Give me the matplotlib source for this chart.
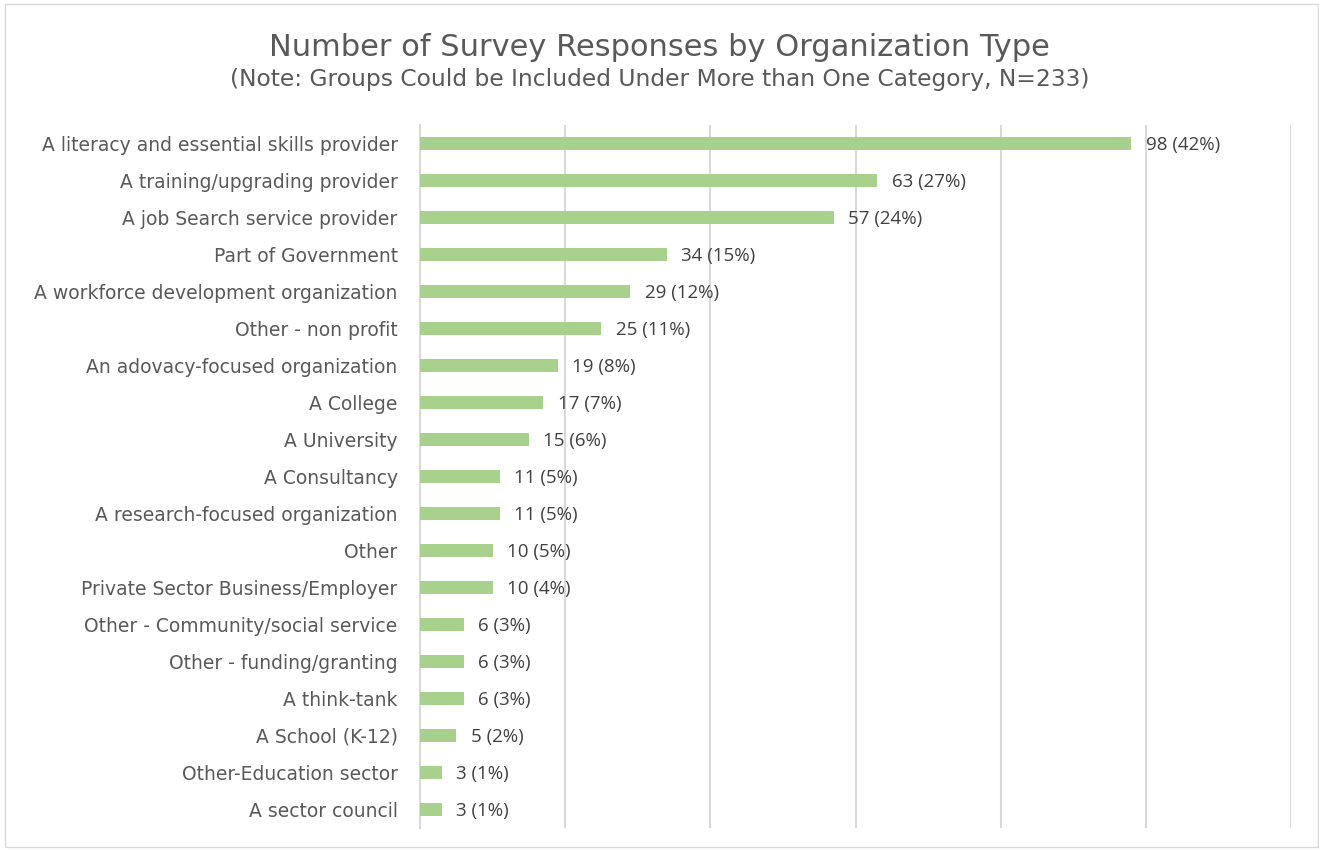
import matplotlib.pyplot as plt
from matplotlib.patches import Rectangle

categories = [
    "A literacy and essential skills provider",
    "A training/upgrading provider",
    "A job Search service provider",
    "Part of Government",
    "A workforce development organization",
    "Other - non profit",
    "An adovacy-focused organization",
    "A College",
    "A University",
    "A Consultancy",
    "A research-focused organization",
    "Other",
    "Private Sector Business/Employer",
    "Other - Community/social service",
    "Other - funding/granting",
    "A think-tank",
    "A School (K-12)",
    "Other-Education sector",
    "A sector council",
]
counts = [98, 63, 57, 34, 29, 25, 19, 17, 15, 11, 11, 10, 10, 6, 6, 6, 5, 3, 3]
percents = [42, 27, 24, 15, 12, 11, 8, 7, 6, 5, 5, 5, 4, 3, 3, 3, 2, 1, 1]

fig = plt.figure(figsize=(13.19, 8.5), dpi=100)
ax = fig.add_axes([0.3184, 0.026, 0.6604, 0.827])

y = list(range(len(categories)))[::-1]
ax.barh(y, counts, height=0.35, color="#A9D18E", zorder=3)

for yi, c, p in zip(y, counts, percents):
    ax.text(c + 2, yi - 0.05, f"{c} ({p}%)", va="center", ha="left",
            fontsize=13.5, color="#404040", family="Open Sans")

ax.set_xlim(0, 120)
ax.set_ylim(-0.5, len(categories) - 0.5)
ax.set_xticks(range(0, 121, 20))
ax.set_xticklabels([])
ax.tick_params(axis="x", length=0)
ax.tick_params(axis="y", length=0, pad=16)
ax.set_yticks(y)
ax.set_yticklabels(categories, fontsize=13.5, color="#595959", family="DejaVu Sans")
ax.grid(axis="x", color="#D9D9D9", linewidth=1.5, zorder=0)
for s in ["top", "right", "bottom"]:
    ax.spines[s].set_visible(False)
ax.spines["left"].set_color("#D9D9D9")
ax.spines["left"].set_linewidth(1.5)

fig.text(0.5, 0.944, "Number of Survey Responses by Organization Type",
         ha="center", va="center", fontsize=22, color="#595959", family="DejaVu Sans")
fig.text(0.5, 0.906, "(Note: Groups Could be Included Under More than One Category, N=233)",
         ha="center", va="center", fontsize=16.8, color="#595959", family="DejaVu Sans")

fig.patches.append(Rectangle((0.004, 0.004), 0.995, 0.991, transform=fig.transFigure,
                             fill=False, edgecolor="#D9D9D9", linewidth=1))

fig.savefig("out.png", dpi=100)
